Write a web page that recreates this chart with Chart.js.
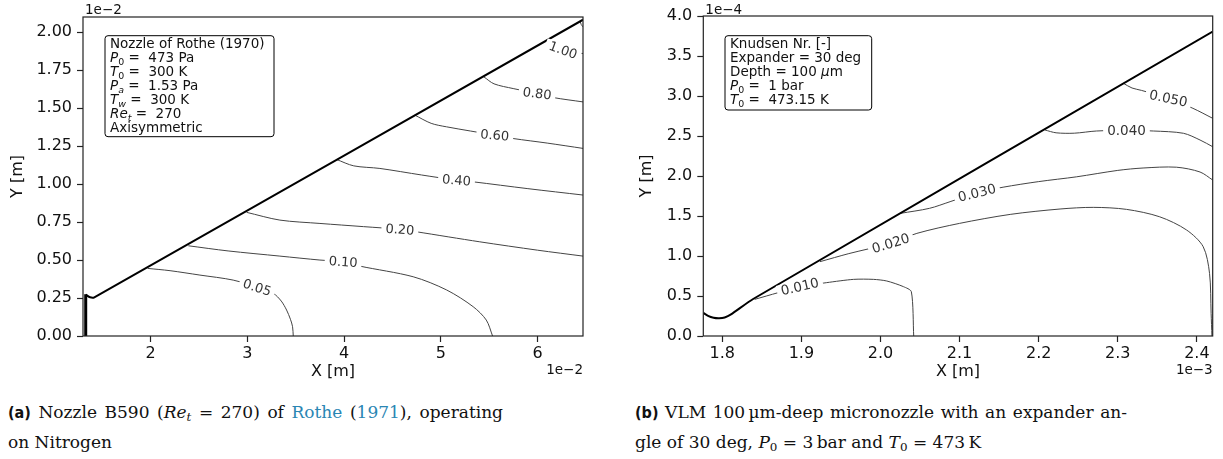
<!DOCTYPE html>
<html>
<head>
<meta charset="utf-8">
<script src="https://cdn.jsdelivr.net/npm/chart.js@4.4.0/dist/chart.umd.min.js"></script>
<style>
  body { margin: 0; background: #fff; width: 1223px; height: 459px; overflow: hidden; position: relative; font-family: 'DejaVu Serif', serif; }
  canvas { position: absolute; top: 0; }
  #ca { left: 0; }
  #cb { left: 612px; }
  .cap { position: absolute; font-size: 17px; line-height: 30px; color: #111; white-space: nowrap; }
  .j { text-align: justify; text-align-last: justify; }
  .lab { font-family: 'DejaVu Sans Condensed', 'DejaVu Sans', sans-serif; font-weight: bold; font-size: 16px; }
  .lnk { color: #2a86b3; }
  sub { font-size: 0.7em; vertical-align: -0.25em; line-height: 0; }
</style>
</head>
<body>
<canvas id="ca" width="612" height="385"></canvas>
<canvas id="cb" width="611" height="385"></canvas>

<div class="cap j" style="left:8px;top:397px;width:495px"><span class="lab">(a)</span> Nozzle B590 (<i>Re<sub>t</sub></i> = 270) of <span class="lnk">Rothe</span> (<span class="lnk">1971</span>), operating</div>
<div class="cap" style="left:8px;top:427px">on Nitrogen</div>
<div class="cap j" style="left:635px;top:397px;width:492px"><span class="lab">(b)</span> VLM 100&#8201;µm-deep micronozzle with an expander an-</div>
<div class="cap" style="left:635px;top:427px">gle of 30 deg, <i>P</i><sub>0</sub> = 3&#8201;bar and <i>T</i><sub>0</sub> = 473&#8201;K</div>

<script>
// ---- (a) Rothe nozzle, x and y in 1e-2 m
const ticksAX = [2, 3, 4, 5, 6];
const ticksAY = [0, 0.25, 0.5, 0.75, 1.0, 1.25, 1.5, 1.75, 2.0];
const wallA = [[1.328, 0.272], [1.373, 0.255], [1.417, 0.255], [6.47, 2.082]];
const throatA = [[1.328, 0], [1.328, 0.275]];
const cA005 = [[1.969, 0.445], [2.2, 0.43], [2.509, 0.401], [2.853, 0.368], [3.101, 0.32], [3.267, 0.281], [3.35, 0.23], [3.405, 0.171], [3.445, 0.11], [3.467, 0.061], [3.474, 0]];
const cA010 = [[2.389, 0.594], [2.8, 0.56], [3.336, 0.526], [3.75, 0.5], [3.99, 0.489], [4.163, 0.46], [4.714, 0.39], [5.06, 0.303], [5.334, 0.193], [5.47, 0.105], [5.535, 0]];
const cA020 = [[2.992, 0.814], [3.336, 0.763], [3.75, 0.741], [4.2, 0.72], [4.577, 0.702], [4.749, 0.686], [5.403, 0.62], [6.0, 0.565], [6.47, 0.526]];
const cA040 = [[3.922, 1.162], [4.1, 1.12], [4.37, 1.103], [4.8, 1.06], [5.162, 1.026], [5.334, 1.015], [5.9, 0.97], [6.47, 0.928]];
const cA060 = [[4.731, 1.454], [4.9, 1.40], [5.059, 1.377], [5.558, 1.322], [5.748, 1.30], [6.1, 1.27], [6.47, 1.235]];
const cA080 = [[5.445, 1.706], [5.55, 1.66], [5.748, 1.629], [5.996, 1.597], [6.161, 1.57], [6.47, 1.541]];
const cA100 = [[6.11, 1.936], [6.2, 1.90], [6.264, 1.882], [6.35, 1.868], [6.47, 1.86]];
const cA120 = [[6.44, 2.072], [6.452, 2.05], [6.47, 2.035]];
const labelsA = [
  ['0.05', 3.101, 0.32, 18], ['0.10', 3.99, 0.489, 4], ['0.20', 4.577, 0.702, 4],
  ['0.40', 5.162, 1.026, 5], ['0.60', 5.558, 1.322, 5], ['0.80', 5.996, 1.597, 7], ['1.00', 6.264, 1.882, 20]
];

// ---- (b) VLM micronozzle, x in 1e-3 m, y in 1e-4 m
const ticksBX = [1.8, 1.9, 2.0, 2.1, 2.2, 2.3, 2.4];
const ticksBY = [0, 0.5, 1.0, 1.5, 2.0, 2.5, 3.0, 3.5, 4.0];
const wallB = [[1.776, 0.29], [1.782, 0.252], [1.789, 0.228], [1.796, 0.222], [1.803, 0.232], [1.811, 0.27], [1.839, 0.4625], [2.42, 3.806]];
const cB010 = [[1.841, 0.458], [1.87, 0.54], [1.898, 0.617], [1.932, 0.667], [1.966, 0.708], [1.991, 0.708], [2.008, 0.6875], [2.029, 0.617], [2.039, 0.554], [2.042, 0]];
const cB020 = [[1.9235, 0.929], [1.96, 1.03], [2.013, 1.16], [2.046, 1.283], [2.1, 1.408], [2.164, 1.52], [2.227, 1.5875], [2.269, 1.608], [2.311, 1.583], [2.353, 1.49], [2.387, 1.325], [2.408, 1.116], [2.416, 0.783], [2.418, 0.283], [2.419, 0]];
const cB030 = [[2.025, 1.533], [2.062, 1.596], [2.088, 1.679], [2.122, 1.79], [2.155, 1.86], [2.2, 1.93], [2.248, 1.99], [2.3, 2.07], [2.332, 2.10], [2.374, 2.11], [2.404, 2.05], [2.42, 1.95]];
const cB040 = [[2.208, 2.575], [2.222, 2.54], [2.245, 2.535], [2.273, 2.5625], [2.311, 2.57], [2.345, 2.5625], [2.383, 2.534], [2.404, 2.45], [2.42, 2.366]];
const cB050 = [[2.307, 3.159], [2.318, 3.10], [2.33, 3.07], [2.364, 2.97], [2.395, 2.846], [2.42, 2.721]];
const labelsB = [
  ['0.010', 1.898, 0.617, -13], ['0.020', 2.013, 1.16, -17], ['0.030', 2.122, 1.79, -14],
  ['0.040', 2.311, 2.575, 0], ['0.050', 2.364, 2.97, 12]
];

const FONT = 'DejaVu Sans';

function line(pts, width, color, tension) {
  return {
    data: pts.map(p => ({x: p[0], y: p[1]})),
    showLine: true, pointRadius: 0, borderWidth: width, borderColor: color,
    tension: tension, fill: false
  };
}

function drawRuns(ctx, x, y, runs, size) {
  ctx.textBaseline = 'alphabetic';
  ctx.textAlign = 'left';
  for (const r of runs) {
    const fs = r.sub ? size * 0.7 : size;
    ctx.font = (r.it ? 'italic ' : '') + fs + 'px "' + FONT + '"';
    ctx.fillText(r.t, x, r.sub ? y + size * 0.22 : y);
    x += ctx.measureText(r.t).width;
  }
}

const decor = {
  id: 'decor',
  afterDatasetsDraw(chart) {
    const o = chart.options.plugins.decor;
    const ctx = chart.ctx;
    const xs = chart.scales.x, ys = chart.scales.y;
    ctx.save();
    ctx.font = o.labelSize + 'px "' + FONT + '"';
    ctx.textAlign = 'center';
    ctx.textBaseline = 'middle';
    for (const [t, x, y, a] of o.labels) {
      const px = xs.getPixelForValue(x), py = ys.getPixelForValue(y);
      const w = ctx.measureText(t).width;
      ctx.save();
      ctx.translate(px, py);
      ctx.rotate(a * Math.PI / 180);
      ctx.fillStyle = '#fff';
      ctx.fillRect(-w / 2 - 4, -6, w + 8, 12);
      ctx.fillStyle = '#333';
      ctx.fillText(t, 0, 1);
      ctx.restore();
    }
    ctx.restore();
  },
  afterDraw(chart) {
    const o = chart.options.plugins.decor;
    const ctx = chart.ctx;
    const a = chart.chartArea;
    ctx.save();
    // frame
    ctx.strokeStyle = '#222';
    ctx.lineWidth = 1.2;
    ctx.strokeRect(a.left, a.top, a.right - a.left, a.bottom - a.top);
    // info box
    const b = o.box;
    ctx.beginPath();
    ctx.roundRect(a.left + b.left, a.top + b.top, b.w, b.h, 3);
    ctx.fillStyle = '#fff';
    ctx.fill();
    ctx.strokeStyle = '#000';
    ctx.lineWidth = 1;
    ctx.stroke();
    ctx.fillStyle = '#111';
    b.lines.forEach((runs, i) => {
      const cy = a.top + b.top + 7.6 + i * 13.9;
      drawRuns(ctx, a.left + b.left + 5, cy + 4.9, runs, 13.5);
    });
    // offset texts
    ctx.font = '13.5px "' + FONT + '"';
    ctx.textBaseline = 'middle';
    ctx.textAlign = 'left';
    ctx.fillText(o.yOffset, a.left + 2, 10);
    ctx.textAlign = 'right';
    ctx.fillText(o.xOffset, a.right, 370);
    ctx.restore();
  }
};

function makeChart(id, o) {
  const tickFont = {family: FONT, size: 16};
  const grid = {drawOnChartArea: false, drawTicks: true, tickLength: 6, tickColor: '#222', tickWidth: 1.2};
  return new Chart(document.getElementById(id), {
    type: 'scatter',
    data: {datasets: o.datasets},
    plugins: [decor],
    options: {
      responsive: false,
      animation: false,
      layout: {padding: {left: 0, top: o.top, right: o.right, bottom: 0}},
      plugins: {
        legend: {display: false},
        tooltip: {enabled: false},
        decor: {labels: o.labels, labelSize: o.labelSize, box: o.box, xOffset: o.xOffset, yOffset: o.yOffset}
      },
      scales: {
        x: {
          type: 'linear', min: o.xmin, max: o.xmax,
          afterBuildTicks: s => { s.ticks = o.xt.map(v => ({value: v})); },
          afterFit: s => { s.height = 49; },
          ticks: {font: tickFont, color: '#111', padding: 2, maxRotation: 0, autoSkip: false, callback: v => v.toFixed(o.xd)},
          grid: grid, border: {display: false},
          title: {display: true, text: 'X [m]', font: tickFont, color: '#111', padding: {top: 0, bottom: 4}}
        },
        y: {
          type: 'linear', min: o.ymin, max: o.ymax,
          afterBuildTicks: s => { s.ticks = o.yt.map(v => ({value: v})); },
          afterFit: s => { s.width = o.yw; },
          ticks: {font: tickFont, color: '#111', padding: 5, autoSkip: false, callback: v => v.toFixed(o.yd)},
          grid: grid, border: {display: false},
          title: {display: true, text: 'Y [m]', font: tickFont, color: '#111', padding: {top: o.ytp, bottom: 0}}
        }
      }
    }
  });
}

const it = t => ({t: t, it: true});
const sub = (t, i) => ({t: t, sub: true, it: !!i});
const tx = t => ({t: t});

makeChart('ca', {
  xmin: 1.30, xmax: 6.47, ymin: 0, ymax: 2.10,
  xt: ticksAX, yt: ticksAY, xd: 0, yd: 2,
  top: 17, right: 29, yw: 83, ytp: 8,
  labels: labelsA, labelSize: 13,
  xOffset: '1e\u22122', yOffset: '1e\u22122',
  box: {left: 22, top: 18.7, w: 169, h: 101, lines: [
    [tx('Nozzle of Rothe (1970)')],
    [it('P'), sub('0'), tx(' =  473 Pa')],
    [it('T'), sub('0'), tx(' =  300 K')],
    [it('P'), sub('a', 1), tx(' =  1.53 Pa')],
    [it('T'), sub('w', 1), tx(' =  300 K')],
    [it('Re'), sub('t', 1), tx(' =  270')],
    [tx('Axisymmetric')]
  ]},
  datasets: [
    line(wallA, 2, '#000', 0.2),
    line(throatA, 3, '#000', 0),
    line(cA005, 1, '#444', 0.3),
    line(cA010, 1, '#444', 0.3),
    line(cA020, 1, '#444', 0.3),
    line(cA040, 1, '#444', 0.3),
    line(cA060, 1, '#444', 0.3),
    line(cA080, 1, '#444', 0.3),
    line(cA100, 1, '#444', 0.3),
    line(cA120, 1, '#444', 0.3)
  ]
});

makeChart('cb', {
  xmin: 1.776, xmax: 2.42, ymin: 0, ymax: 4.0,
  xt: ticksBX, yt: ticksBY, xd: 1, yd: 1,
  top: 16, right: 10.3, yw: 91.3, ytp: 25,
  labels: labelsB, labelSize: 13.5,
  xOffset: '1e\u22123', yOffset: '1e\u22124',
  box: {left: 21.7, top: 19.7, w: 146.7, h: 74.3, lines: [
    [tx('Knudsen Nr. [-]')],
    [tx('Expander = 30 deg')],
    [tx('Depth = 100 '), it('\u03bc'), tx('m')],
    [it('P'), sub('0'), tx(' =  1 bar')],
    [it('T'), sub('0'), tx(' =  473.15 K')]
  ]},
  datasets: [
    line(wallB, 2, '#000', 0.2),
    line(cB010, 1, '#444', 0.25),
    line(cB020, 1, '#444', 0.3),
    line(cB030, 1, '#444', 0.3),
    line(cB040, 1, '#444', 0.3),
    line(cB050, 1, '#444', 0.3)
  ]
});
</script>
</body>
</html>
